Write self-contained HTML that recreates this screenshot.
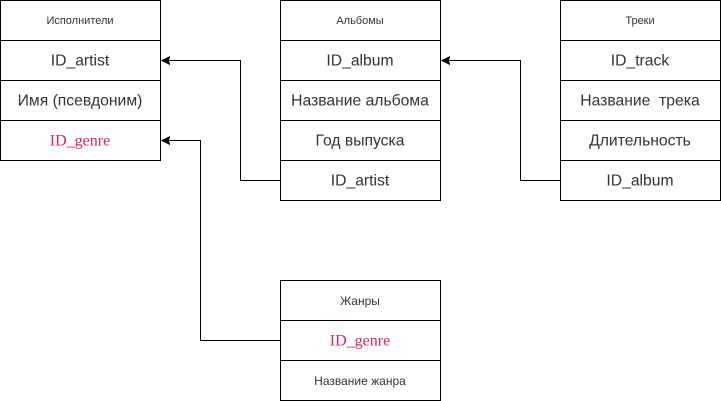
<!DOCTYPE html>
<html><head><meta charset="utf-8"><style>
html,body{margin:0;padding:0;background:#fff;}
svg{display:block;}
text{font-family:"Liberation Sans",sans-serif;fill:#333;text-anchor:middle;dominant-baseline:central;}
.h{font-size:11px;}
.r{font-size:15.7px;}
.s{font-size:12px;}
.p{font-family:"Liberation Serif",serif;fill:#e0245e;font-size:16px;}
rect{fill:#fff;stroke:#000;stroke-width:1;}
path{fill:none;stroke:#000;stroke-width:1;}
</style></head><body>
<svg width="721" height="401" viewBox="0 0 721 401">
<defs><marker id="a" markerWidth="10" markerHeight="10" refX="8" refY="5" orient="auto" markerUnits="userSpaceOnUse"><path d="M0,1 L8,5 L0,9 L2,5 Z" style="fill:#000;stroke:#000"/></marker></defs>
<path d="M280.5,180.5 H240.5 V60.5 H162" marker-end="url(#a)"/>
<path d="M560.5,180.5 H520.5 V60.5 H442" marker-end="url(#a)"/>
<path d="M280.5,340.5 H200.5 V140.5 H162" marker-end="url(#a)"/>
<rect x="0.5" y="0.5" width="160" height="40"/><rect x="0.5" y="40.5" width="160" height="40"/><rect x="0.5" y="80.5" width="160" height="40"/><rect x="0.5" y="120.5" width="160" height="40"/>
<text class="h" x="80" y="21">Исполнители</text>
<text class="r" x="80" y="61">ID_artist</text>
<text class="r" x="80" y="101">Имя (псевдоним)</text>
<text class="p" x="80" y="141">ID_genre</text>
<rect x="280.5" y="0.5" width="160" height="40"/><rect x="280.5" y="40.5" width="160" height="40"/><rect x="280.5" y="80.5" width="160" height="40"/><rect x="280.5" y="120.5" width="160" height="40"/><rect x="280.5" y="160.5" width="160" height="40"/>
<text class="h" x="360" y="21">Альбомы</text>
<text class="r" x="360" y="61">ID_album</text>
<text class="r" x="360" y="101">Название альбома</text>
<text class="r" x="360" y="141">Год выпуска</text>
<text class="r" x="360" y="181">ID_artist</text>
<rect x="560.5" y="0.5" width="160" height="40"/><rect x="560.5" y="40.5" width="160" height="40"/><rect x="560.5" y="80.5" width="160" height="40"/><rect x="560.5" y="120.5" width="160" height="40"/><rect x="560.5" y="160.5" width="160" height="40"/>
<text class="h" x="640" y="21">Треки</text>
<text class="r" x="640" y="61">ID_track</text>
<text class="r" x="640" y="101">Название&#160; трека</text>
<text class="r" x="640" y="141">Длительность</text>
<text class="r" x="640" y="181">ID_album</text>
<rect x="280.5" y="280.5" width="160" height="40"/><rect x="280.5" y="320.5" width="160" height="40"/><rect x="280.5" y="360.5" width="160" height="40"/>
<text class="s" x="360" y="301">Жанры</text>
<text class="p" x="360" y="341">ID_genre</text>
<text class="s" x="360" y="381">Название жанра</text>
</svg>
</body></html>
